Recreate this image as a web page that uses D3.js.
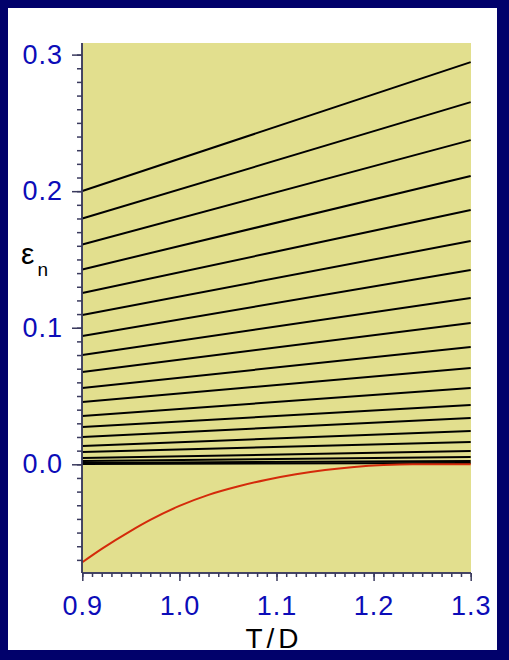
<!DOCTYPE html>
<html>
<head>
<meta charset="utf-8">
<script src="https://cdn.jsdelivr.net/npm/d3@7"></script>
<style>
  html, body { margin: 0; padding: 0; background: #01016b; }
  svg { display: block; }
</style>
</head>
<body>
<svg id="chart"></svg>
<script>
/* données */
const tdDomain = [0.9, 1.3]            // T/D aux extrémités des droites
const levelStart = [0.2001, 0.1800, 0.1610, 0.1427, 0.1254, 0.1093, 0.0939, 0.0800, 0.0676, 0.0559,
                    0.0456, 0.0354, 0.0273, 0.0200, 0.0134, 0.0090, 0.0046, 0.0024, 0.0010, 0.0002]
const levelEnd   = [0.2945, 0.2652, 0.2374, 0.2111, 0.1862, 0.1635, 0.1423, 0.1218, 0.1035, 0.0859,
                    0.0705, 0.0559, 0.0434, 0.0339, 0.0244, 0.0163, 0.0097, 0.0053, 0.0024, 0.0010]
const redT   = [0.9, 0.92, 0.95, 0.97, 1.0, 1.03, 1.06, 1.09, 1.12, 1.15, 1.18, 1.21, 1.24, 1.27, 1.3]
const redEps = [-0.0717, -0.0619, -0.0487, -0.0407, -0.0305, -0.0224, -0.0163, -0.0113, -0.0073, -0.0042,
                -0.0020, -0.0006, 0, 0, 0]
const xTicks = [0.9, 1.0, 1.1, 1.2, 1.3]
const yTicks = [0.0, 0.1, 0.2, 0.3]

const width = 509, height = 660
const plot = {left: 82, right: 471, top: 43, bottom: 573}

const svg = d3.select('#chart').attr('width', width).attr('height', height)

/* fond */
svg.append('rect').attr('x', 8).attr('y', 8).attr('width', 489).attr('height', 642).attr('fill', '#ffffff')
svg.append('rect')
   .attr('x', plot.left).attr('y', plot.top)
   .attr('width', plot.right - plot.left).attr('height', plot.bottom - plot.top)
   .attr('fill', '#e2df8e')

/* échelles */
const xScale = d3.scaleLinear().domain([0.9, 1.3]).range([82.3, 470.7])
const yScale = d3.scaleLinear().domain([-0.0796, 0.3085]).range([plot.bottom, plot.top])

const line = d3.line().x(d => xScale(d[0])).y(d => yScale(d[1]))

/* niveaux */
svg.append('g').selectAll('path')
   .data(levelStart.map((v, i) => [[tdDomain[0], v], [tdDomain[1], levelEnd[i]]]))
   .enter()
   .append('path')
   .attr('d', line)
   .attr('fill', 'none')
   .attr('stroke', '#000000')
   .attr('stroke-width', 2)

/* courbe rouge */
svg.append('path')
   .datum(redT.map((t, i) => [t, redEps[i]]))
   .attr('d', line.curve(d3.curveMonotoneX))
   .attr('fill', 'none')
   .attr('stroke', '#d42a0a')
   .attr('stroke-width', 2)

/* axes */
const axisColor = '#3a3a5e'
const xMinor = d3.range(90, 131).map(d => d / 100)
const yMinor = d3.range(-7, 31).map(d => d / 100)

const xAxis = svg.append('g').attr('transform', 'translate(0,' + plot.bottom + ')')
xAxis.append('g').call(d3.axisBottom(xScale).tickValues(xMinor).tickSize(4).tickFormat(''))
xAxis.append('g').call(d3.axisBottom(xScale).tickValues(xTicks).tickSize(8).tickPadding(8)
     .tickFormat(d3.format('.1f')))
xAxis.selectAll('path.domain').attr('d', 'M' + plot.left + ',0H' + plot.right)

const yAxis = svg.append('g').attr('transform', 'translate(' + plot.left + ',0)')
yAxis.append('g').call(d3.axisLeft(yScale).tickValues(yMinor).tickSize(5).tickFormat(''))
yAxis.append('g').call(d3.axisLeft(yScale).tickValues(yTicks).tickSize(10).tickPadding(9)
     .tickFormat(d3.format('.1f')))
yAxis.selectAll('path.domain').attr('d', 'M0,' + plot.top + 'V' + plot.bottom)

svg.selectAll('.domain, .tick line').attr('stroke', axisColor).attr('stroke-width', 1.5)
svg.selectAll('.tick text')
   .attr('fill', '#0c0cb8')
   .style('font-family', '"Liberation Sans", Arial, sans-serif')
   .style('font-size', '27px')
   .style('letter-spacing', '1px')
xAxis.selectAll('.tick text').attr('dy', '0.95em')

/* titres des axes */
svg.append('text')
   .attr('x', 274).attr('y', 648)
   .attr('text-anchor', 'middle')
   .style('font-family', '"Liberation Sans", Arial, sans-serif')
   .style('font-size', '28px')
   .style('letter-spacing', '4px')
   .text('T/D')

const epsLabel = svg.append('text')
   .attr('x', 21).attr('y', 264)
   .style('font-family', '"Liberation Sans", Arial, sans-serif')
   .style('font-size', '30px')
epsLabel.append('tspan').text('ε')
epsLabel.append('tspan').attr('dx', 3).attr('dy', 12).style('font-size', '19px').text('n')
</script>
</body>
</html>
